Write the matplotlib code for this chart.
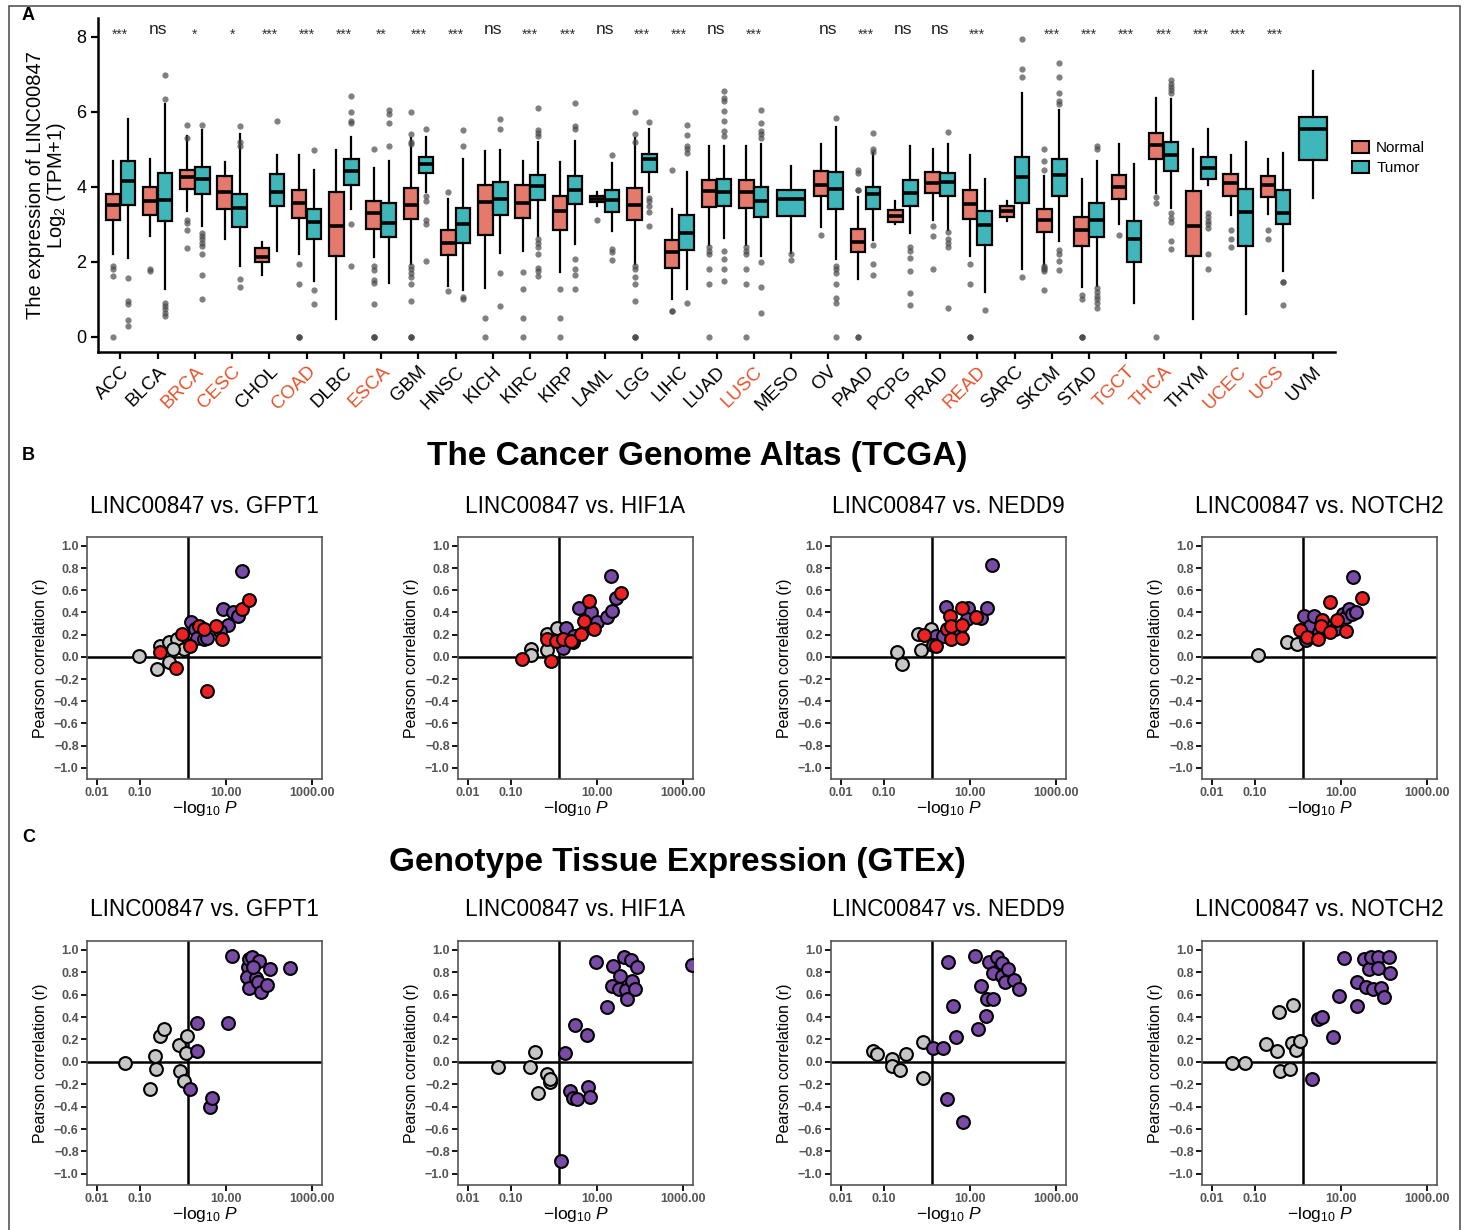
import numpy as np
import matplotlib
matplotlib.use('Agg')
import matplotlib.pyplot as plt
from matplotlib.patches import Patch, Rectangle
from matplotlib.ticker import NullLocator

plt.rcParams['font.family'] = ['Liberation Sans', 'DejaVu Sans']
plt.rcParams['mathtext.fontset'] = 'custom'
plt.rcParams['mathtext.rm'] = 'Liberation Sans'
plt.rcParams['mathtext.it'] = 'Liberation Sans:italic'

# ---------------- panel A data ----------------
cancers = ['ACC', 'BLCA', 'BRCA', 'CESC', 'CHOL', 'COAD', 'DLBC', 'ESCA', 'GBM', 'HNSC', 'KICH',
           'KIRC', 'KIRP', 'LAML', 'LGG', 'LIHC', 'LUAD', 'LUSC', 'MESO', 'OV', 'PAAD', 'PCPG',
           'PRAD', 'READ', 'SARC', 'SKCM', 'STAD', 'TGCT', 'THCA', 'THYM', 'UCEC', 'UCS', 'UVM']
red_labels = ['BRCA', 'CESC', 'COAD', 'ESCA', 'LUSC', 'READ', 'TGCT', 'THCA', 'UCEC', 'UCS']
signif = ['***', 'ns', '*', '*', '***', '***', '***', '**', '***', '***', 'ns',
          '***', '***', 'ns', '***', '***', 'ns', '***', '', 'ns', '***', 'ns',
          'ns', '***', '', '***', '***', '***', '***', '***', '***', '***', '']

# (whisker low, q1, median, q3, whisker high)
normal_stats = [
    (2.2, 3.13, 3.53, 3.80, 4.68), (2.68, 3.24, 3.62, 3.99, 4.75), (3.35, 3.95, 4.26, 4.46, 5.35),
    (2.61, 3.41, 3.86, 4.30, 4.66), (1.64, 1.99, 2.13, 2.36, 2.52), (2.2, 3.17, 3.56, 3.91, 4.84),
    (0.48, 2.15, 2.97, 3.87, 4.98), (2.13, 2.89, 3.31, 3.62, 4.5), (1.95, 3.15, 3.53, 3.96, 5.3),
    (1.37, 2.18, 2.51, 2.86, 3.68), (1.31, 2.73, 3.59, 4.06, 4.95), (2.28, 3.16, 3.56, 4.06, 4.7),
    (1.72, 2.86, 3.35, 3.77, 4.67), (3.48, 3.59, 3.68, 3.75, 3.87), (1.95, 3.13, 3.53, 3.96, 5.3),
    (1.0, 1.83, 2.27, 2.58, 3.4), (2.46, 3.47, 3.88, 4.17, 5.08), (2.44, 3.44, 3.87, 4.17, 5.08),
    None, (2.92, 3.75, 4.06, 4.41, 5.13), (1.55, 2.27, 2.52, 2.88, 3.72),
    (3.0, 3.06, 3.22, 3.38, 3.62), (3.13, 3.84, 4.11, 4.39, 5.01), (2.17, 3.15, 3.55, 3.91, 4.84),
    (3.08, 3.19, 3.35, 3.48, 3.62), (1.93, 2.79, 3.13, 3.42, 4.3), (1.33, 2.42, 2.86, 3.2, 4.2),
    (3.0, 3.69, 3.99, 4.31, 5.13), (3.84, 4.75, 5.11, 5.44, 6.36), (0.48, 2.15, 2.97, 3.88, 5.0),
    (3.24, 3.77, 4.11, 4.35, 4.86), (3.28, 3.72, 4.04, 4.3, 4.73), None]
normal_out = [
    [1.88, 1.8, 1.62, 0], [1.81, 1.75], [5.64, 5.3, 3.13, 3.04, 2.86, 2.37], [], [],
    [1.95, 1.42, 0, 0, 0], [], [5.0, 1.88, 1.78, 1.53, 1.44, 0.89, 0, 0, 0],
    [5.99, 5.4, 5.2, 5.15, 1.9, 1.8, 1.7, 1.6, 1.4, 0.95, 0, 0, 0], [3.87, 1.22], [0.5, 0],
    [1.72, 1.29, 0.5, 0], [1.29, 0.5, 0], [3.13], [5.99, 5.4, 5.2, 1.9, 1.8, 1.6, 1.4, 0.95, 0, 0, 0],
    [4.44, 0.68, 0.68], [2.4, 2.3, 2.2, 1.81, 1.4, 0], [2.4, 2.3, 2.2, 1.81, 1.4, 0], [],
    [2.73], [4.46, 4.37, 3.91, 3.91, 0, 0], [], [2.95, 2.68, 1.81], [1.95, 1.41, 0, 0, 0], [],
    [5.0, 4.68, 4.46, 1.9, 1.85, 1.8, 1.75, 1.24], [1.13, 1.0, 0, 0, 0], [2.73], [3.73, 3.57, 0],
    [], [2.86, 2.61, 2.4], [2.86, 2.6], []]

tumor_stats = [
    (2.1, 3.53, 4.15, 4.68, 5.8), (1.28, 3.08, 3.66, 4.37, 6.2), (2.95, 3.81, 4.2, 4.53, 5.51),
    (1.88, 2.93, 3.44, 3.81, 5.4), (2.28, 3.48, 3.86, 4.33, 4.84), (1.48, 2.6, 3.06, 3.4, 4.46),
    (3.41, 4.05, 4.41, 4.73, 5.33), (1.44, 2.67, 3.04, 3.57, 4.68), (3.87, 4.37, 4.62, 4.8, 5.33),
    (1.24, 2.51, 3.02, 3.44, 4.73), (2.24, 3.24, 3.69, 4.13, 4.97), (2.7, 3.64, 4.02, 4.31, 5.19),
    (2.48, 3.54, 3.93, 4.28, 5.22), (2.82, 3.33, 3.64, 3.93, 4.64), (3.86, 4.39, 4.73, 4.88, 5.53),
    (1.28, 2.31, 2.76, 3.24, 4.39), (2.64, 3.48, 3.86, 4.2, 5.1), (2.15, 3.19, 3.62, 3.99, 5.13),
    (2.24, 3.22, 3.68, 3.91, 4.55), (2.08, 3.42, 3.95, 4.39, 5.59), (2.58, 3.4, 3.8, 4.0, 4.91),
    (2.77, 3.48, 3.84, 4.17, 5.08), (2.86, 3.77, 4.12, 4.36, 5.13), (1.2, 2.44, 2.98, 3.35, 4.2),
    (1.8, 3.57, 4.26, 4.79, 6.51), (2.55, 3.75, 4.31, 4.73, 6.06), (1.35, 2.66, 3.13, 3.56, 4.7),
    (0.91, 1.99, 2.6, 3.1, 4.6), (3.44, 4.42, 4.84, 5.19, 6.33), (4.06, 4.2, 4.51, 4.79, 5.53),
    (0.6, 2.42, 3.32, 3.95, 5.19), (1.75, 3.01, 3.31, 3.93, 4.89), (3.71, 4.71, 5.53, 5.87, 7.08)]
tumor_out = [
    [1.57, 0.95, 0.89, 0.46, 0.3], [6.97, 6.35, 0.9, 0.82, 0.75, 0.64, 0.57],
    [5.64, 2.77, 2.68, 2.6, 2.5, 2.42, 2.2, 1.64, 1.0], [5.62, 5.2, 5.08, 1.55, 1.33], [5.75],
    [4.98, 1.26, 0.89], [6.42, 5.99, 5.75, 5.69, 3.02, 1.88], [6.06, 5.93, 5.71, 5.08],
    [5.53, 3.75, 3.62, 3.13, 3.0, 2.02], [5.51, 5.1, 1.06, 1.0], [5.81, 5.53, 1.71, 0.82],
    [6.1, 5.51, 5.44, 5.35, 2.6, 2.5, 2.4, 2.2, 1.84, 1.75, 1.62],
    [6.24, 5.62, 5.55, 2.08, 1.81, 1.64, 1.29], [4.84, 2.35, 2.26, 2.04],
    [5.72, 3.71, 3.62, 3.48, 3.33, 2.97], [5.64, 5.37, 5.1, 5.0, 4.9, 0.91],
    [6.55, 6.37, 6.3, 6.02, 5.75, 5.5, 5.35, 2.28, 2.08, 1.8, 1.5],
    [6.06, 5.7, 5.5, 5.4, 5.3, 1.99, 1.33, 0.64], [2.2, 2.04],
    [5.84, 1.88, 1.8, 1.7, 1.4, 1.05, 0.9, 0], [5.44, 5.0, 4.93, 2.44, 1.95, 1.64],
    [2.4, 2.3, 2.1, 1.75, 1.17, 0.86], [5.46, 2.8, 2.6, 2.5, 2.4, 0.77], [0.73],
    [7.93, 7.13, 6.93, 1.59], [7.31, 6.92, 6.51, 6.3, 6.2, 2.33, 2.2, 2.02, 1.78],
    [5.08, 5.01, 1.3, 1.2, 1.1, 1.0, 0.9, 0.78], [],
    [6.84, 6.75, 6.65, 6.58, 6.49, 3.31, 3.17, 3.06, 2.55, 2.35],
    [3.3, 3.2, 3.1, 3.0, 2.9, 2.2, 1.81], [], [1.46, 1.46, 0.84], []]

# ---------------- panels B/C data (-log10 P, Pearson r, group) ----------------
# group: g = not significant, p = significant, r = significant + differentially expressed
tcga_gfpt1_logp = [0.095, 0.25, 0.47, 0.29, 0.47, 0.72, 1.04, 0.6,
                   0.30, 0.70, 0.95, 1.48, 2.3, 3.1, 3.6, 6.0, 7.9, 24, 35,
                   1.5, 1.9, 2.1, 3.0, 3.6, 8.3, 11.2, 14.7, 19, 24, 7.3]
tcga_gfpt1_r = [0.006, -0.11, -0.05, 0.10, 0.13, 0.16, 0.07, 0.07,
                0.04, -0.10, 0.21, 0.10, 0.28, 0.25, -0.31, 0.28, 0.16, 0.43, 0.51,
                0.31, 0.25, 0.17, 0.16, 0.17, 0.43, 0.29, 0.40, 0.37, 0.77, 0.23]
tcga_gfpt1_grp = 'gggggggg' + 'rrrrrrrrrrr' + 'ppppppppppp'

tcga_hif1a_logp = [0.29, 0.30, 0.69, 0.69, 1.2,
                   0.18, 0.69, 0.85, 1.1, 1.66, 2.5, 4.2, 5.1, 6.4, 8.7, 37,
                   1.9, 1.6, 2.7, 3.8, 7.1, 10, 17, 22, 21, 27.5, 2.9, 5.4]
tcga_hif1a_r = [0.07, 0.02, 0.21, 0.06, 0.26,
                -0.02, 0.16, -0.04, 0.14, 0.16, 0.14, 0.21, 0.32, 0.50, 0.25, 0.58,
                0.26, 0.08, 0.13, 0.44, 0.40, 0.31, 0.36, 0.41, 0.73, 0.53, 0.19, 0.26]
tcga_hif1a_grp = 'ggggg' + 'rrrrrrrrrrr' + 'pppppppppppp'

tcga_nedd9_logp = [0.2, 0.26, 0.63, 0.71, 1.26,
                   0.85, 1.66, 3.4, 2.9, 3.6, 3.6, 6.6, 6.6, 6.4, 13.5,
                   1.6, 1.4, 2.3, 2.7, 5.5, 9, 8.7, 17.6, 24.5, 31.6, 4.2]
tcga_nedd9_r = [0.04, -0.06, 0.21, 0.06, 0.25,
                0.20, 0.10, 0.37, 0.25, 0.28, 0.16, 0.29, 0.44, 0.17, 0.36,
                0.19, 0.11, 0.19, 0.45, 0.23, 0.44, 0.34, 0.35, 0.44, 0.83, 0.20]
tcga_nedd9_grp = 'ggggg' + 'rrrrrrrrrr' + 'ppppppppppp'

tcga_notch2_logp = [0.12, 0.56, 0.96,
                    1.1, 1.6, 2.9, 3.6, 3.5, 5.4, 5.6, 8, 13, 30,
                    1.4, 1.56, 1.87, 2.4, 3.1, 4.5, 7.1, 11, 13, 15.6, 18, 22, 19]
tcga_notch2_r = [0.02, 0.13, 0.12,
                 0.24, 0.18, 0.16, 0.33, 0.28, 0.49, 0.22, 0.33, 0.23, 0.53,
                 0.37, 0.15, 0.28, 0.37, 0.22, 0.28, 0.25, 0.39, 0.36, 0.43, 0.39, 0.40, 0.72]
tcga_notch2_grp = 'ggg' + 'rrrrrrrrrr' + 'ppppppppppppp'

gtex_gfpt1_logp = [0.045, 0.17, 0.22, 0.23, 0.29, 0.36, 0.79, 0.87, 1.04, 1.24, 1.2,
                   1.48, 2.1, 2.1, 4.3, 4.8, 11.2, 13.5, 33, 35, 40, 59, 30, 35, 49, 56, 66, 91, 107, 300, 42]
gtex_gfpt1_r = [-0.01, -0.24, 0.05, -0.06, 0.23, 0.29, 0.15, -0.08, -0.17, 0.23, 0.08,
                -0.24, 0.10, 0.35, -0.40, -0.32, 0.35, 0.95, 0.85, 0.92, 0.94, 0.90, 0.76, 0.66,
                0.75, 0.71, 0.62, 0.69, 0.83, 0.84, 0.85]
gtex_gfpt1_grp = 'g' * 11 + 'p' * 20

gtex_hif1a_logp = [0.05, 0.28, 0.36, 0.42, 0.69, 0.83, 0.83,
                   1.45, 1.8, 2.3, 2.7, 3.4, 3.0, 5.8, 6.2, 7.0, 9.4, 17, 22, 24, 34, 33, 43,
                   47, 51, 62, 66, 77, 84, 1650]
gtex_hif1a_r = [-0.05, -0.05, 0.09, -0.28, -0.11, -0.18, -0.15,
                -0.89, 0.08, -0.26, -0.32, -0.33, 0.33, 0.24, -0.22, -0.31, 0.89, 0.49, 0.68,
                0.86, 0.77, 0.65, 0.94, 0.64, 0.56, 0.91, 0.72, 0.65, 0.85, 0.87]
gtex_hif1a_grp = 'g' * 7 + 'p' * 23

gtex_nedd9_logp = [0.055, 0.068, 0.15, 0.15, 0.23, 0.33, 0.79, 0.79,
                   1.35, 2.3, 2.9, 3.0, 4.1, 4.7, 7.0, 13, 15.6, 17.8, 23.6, 25, 34, 27, 34,
                   42, 55, 55, 65, 78, 105, 140]
gtex_nedd9_r = [0.10, 0.07, 0.03, -0.04, -0.07, 0.07, 0.18, -0.14,
                0.12, 0.12, -0.33, 0.89, 0.50, 0.22, -0.54, 0.95, 0.29, 0.68, 0.41, 0.56,
                0.56, 0.89, 0.79, 0.94, 0.88, 0.77, 0.71, 0.83, 0.73, 0.65]
gtex_nedd9_grp = 'g' * 8 + 'p' * 22

gtex_notch2_logp = [0.03, 0.059, 0.18, 0.33, 0.36, 0.38, 0.66, 0.76, 0.74, 0.89, 1.1,
                    2.1, 2.9, 3.6, 6.4, 9.1, 12, 24, 24, 35, 38, 44, 49, 54, 74, 74, 83, 100, 131, 135]
gtex_notch2_r = [-0.01, -0.01, 0.16, 0.10, 0.45, -0.08, -0.06, 0.51, 0.17, 0.11, 0.19,
                 -0.15, 0.38, 0.40, 0.22, 0.59, 0.93, 0.71, 0.50, 0.92, 0.67, 0.83, 0.94, 0.65,
                 0.94, 0.84, 0.66, 0.58, 0.94, 0.79]
gtex_notch2_grp = 'g' * 11 + 'p' * 19

genes = ['GFPT1', 'HIF1A', 'NEDD9', 'NOTCH2']

col_normal = '#E4796C'
col_tumor = '#3FB6B9'
col_redlab = '#E5532C'
grp_colors = {'g': '#C6C6C6', 'p': '#7A4BA6', 'r': '#EE2222'}

W, H = 1468, 1230


def fig_rect(left, top, right, bottom):
    # pixel box -> figure fraction
    return [left / W, 1 - bottom / H, (right - left) / W, (bottom - top) / H]


def draw_boxes(fig):
    ax = fig.add_axes(fig_rect(98, 18, 1335, 352))
    stats, pos, widths, colors = [], [], [], []
    for i in range(len(cancers)):
        single = normal_stats[i] is None
        for st, out, off, col in [(normal_stats[i], normal_out[i], -0.2, col_normal),
                                  (tumor_stats[i], tumor_out[i], 0.2, col_tumor)]:
            if st is None:
                continue
            lo, q1, med, q3, hi = st
            stats.append(dict(whislo=lo, q1=q1, med=med, q3=q3, whishi=hi, fliers=out))
            pos.append(i if single else i + off)
            widths.append(0.75 if single else 0.39)
            colors.append(col)
    bp = ax.bxp(stats, positions=pos, widths=widths, patch_artist=True, showcaps=False,
                boxprops=dict(linewidth=1.6, edgecolor='black'),
                whiskerprops=dict(linewidth=1.6, color='black'),
                medianprops=dict(linewidth=2.6, color='black'),
                flierprops=dict(marker='o', markersize=4.5, markerfacecolor='#4a4a4a',
                                markeredgecolor='none', alpha=0.7))
    for patch, col in zip(bp['boxes'], colors):
        patch.set_facecolor(col)

    for i, s in enumerate(signif):
        if s:
            if '*' in s:
                ax.text(i, 8.05, s, ha='center', va='center', fontsize=10, color='#333333')
            else:
                ax.text(i, 8.2, s, ha='center', va='center', fontsize=12.5, color='#222222')

    ax.set_xlim(-0.6, 32.6)
    ax.set_ylim(-0.4, 8.5)
    ax.set_yticks([0, 2, 4, 6, 8])
    ax.set_xticks(range(len(cancers)))
    ax.set_xticklabels(cancers, rotation=45, ha='right', rotation_mode='anchor', fontsize=13.5)
    for lab in ax.get_xticklabels():
        if lab.get_text() in red_labels:
            lab.set_color(col_redlab)
    ax.tick_params(axis='y', labelsize=13, length=5, width=1.6)
    ax.tick_params(axis='x', length=5, width=1.6, pad=3)
    for side in ['top', 'right']:
        ax.spines[side].set_visible(False)
    for side in ['left', 'bottom']:
        ax.spines[side].set_linewidth(1.8)
    ax.set_ylabel('The expression of LINC00847\nLog$_2$ (TPM+1)', fontsize=14.5, labelpad=6,
                  linespacing=1.0)

    handles = [Patch(facecolor=col_normal, edgecolor='black', linewidth=1.5),
               Patch(facecolor=col_tumor, edgecolor='black', linewidth=1.5)]
    fig.legend(handles, ['Normal', 'Tumor'], loc='center left',
               bbox_to_anchor=(1338 / W, 1 - 158 / H), frameon=False, fontsize=11,
               handlelength=1.1, handleheight=0.9, handletextpad=0.5, labelspacing=0.35)


def draw_scatter(ax, logp, r, grp):
    logp = np.array(logp)
    r = np.array(r)
    grp = np.array(list(grp))
    ax.set_xscale('log')
    ax.set_xlim(10 ** -2.23, 10 ** 3.23)
    ax.set_ylim(-1.1, 1.08)
    ax.axhline(0, color='black', lw=1.8, zorder=1)
    ax.axvline(1.3, color='black', lw=1.8, zorder=1)
    for g in ['g', 'p', 'r']:
        sel = grp == g
        ax.scatter(logp[sel], r[sel], s=85, c=grp_colors[g], edgecolors='black',
                   linewidths=1.5, zorder=3)
    ax.set_xticks([0.01, 0.1, 10, 1000])
    ax.set_xticklabels(['0.01', '0.10', '10.00', '1000.00'])
    ax.xaxis.set_minor_locator(NullLocator())
    yt = np.round(np.arange(-1.0, 1.01, 0.2), 1)
    ax.set_yticks(yt)
    ax.set_yticklabels([f'{abs(v):.1f}' if abs(v) < 1e-9 else f'{v:.1f}'.replace('-', '\u2212')
                        for v in yt])
    ax.tick_params(labelsize=9, length=4, width=1.3, labelcolor='#555555', pad=2)
    for lab in ax.get_xticklabels() + ax.get_yticklabels():
        lab.set_fontweight('bold')
    for sp in ax.spines.values():
        sp.set_color('#555555')
        sp.set_linewidth(1.2)
    ax.set_xlabel(r'$-\mathrm{log}_{10}\ P$', fontsize=12.5, labelpad=0)
    ax.set_ylabel('Pearson correlation (r)', fontsize=11.5, labelpad=4)


def main():
    fig = plt.figure(figsize=(W / 100, H / 100), dpi=100)

    # outer frame
    fig.patches.append(Rectangle((9 / W, -0.01), (1460 - 9) / W, 1.01 - 6 / H,
                                 transform=fig.transFigure, fill=False,
                                 edgecolor='#555555', linewidth=1.2))

    draw_boxes(fig)

    rows = [
        ('The Cancer Genome Altas (TCGA)', 457, 697, 537, 779, 507,
         [(tcga_gfpt1_logp, tcga_gfpt1_r, tcga_gfpt1_grp), (tcga_hif1a_logp, tcga_hif1a_r, tcga_hif1a_grp),
          (tcga_nedd9_logp, tcga_nedd9_r, tcga_nedd9_grp), (tcga_notch2_logp, tcga_notch2_r, tcga_notch2_grp)]),
        ('Genotype Tissue Expression (GTEx)', 862, 677, 941, 1185, 910,
         [(gtex_gfpt1_logp, gtex_gfpt1_r, gtex_gfpt1_grp), (gtex_hif1a_logp, gtex_hif1a_r, gtex_hif1a_grp),
          (gtex_nedd9_logp, gtex_nedd9_r, gtex_nedd9_grp), (gtex_notch2_logp, gtex_notch2_r, gtex_notch2_grp)]),
    ]
    lefts = [87, 458, 831, 1202]
    for heading, hy, hx, top, bottom, ty, panels in rows:
        fig.text(hx / W, 1 - hy / H, heading, ha='center', va='center', fontsize=24, fontweight='bold')
        for left, gene, (lp, rr, gg) in zip(lefts, genes, panels):
            ax = fig.add_axes(fig_rect(left, top, left + 235, bottom))
            draw_scatter(ax, lp, rr, gg)
            fig.text((left + 117) / W, 1 - ty / H, f'LINC00847 vs. {gene}', ha='center',
                     va='center', fontsize=16.3)

    for letter, y in [('A', 15), ('B', 455), ('C', 838)]:
        fig.text(22 / W, 1 - y / H, letter, ha='left', va='center', fontsize=13, fontweight='bold')

    fig.savefig('out.png', dpi=100)


if __name__ == '__main__':
    main()
